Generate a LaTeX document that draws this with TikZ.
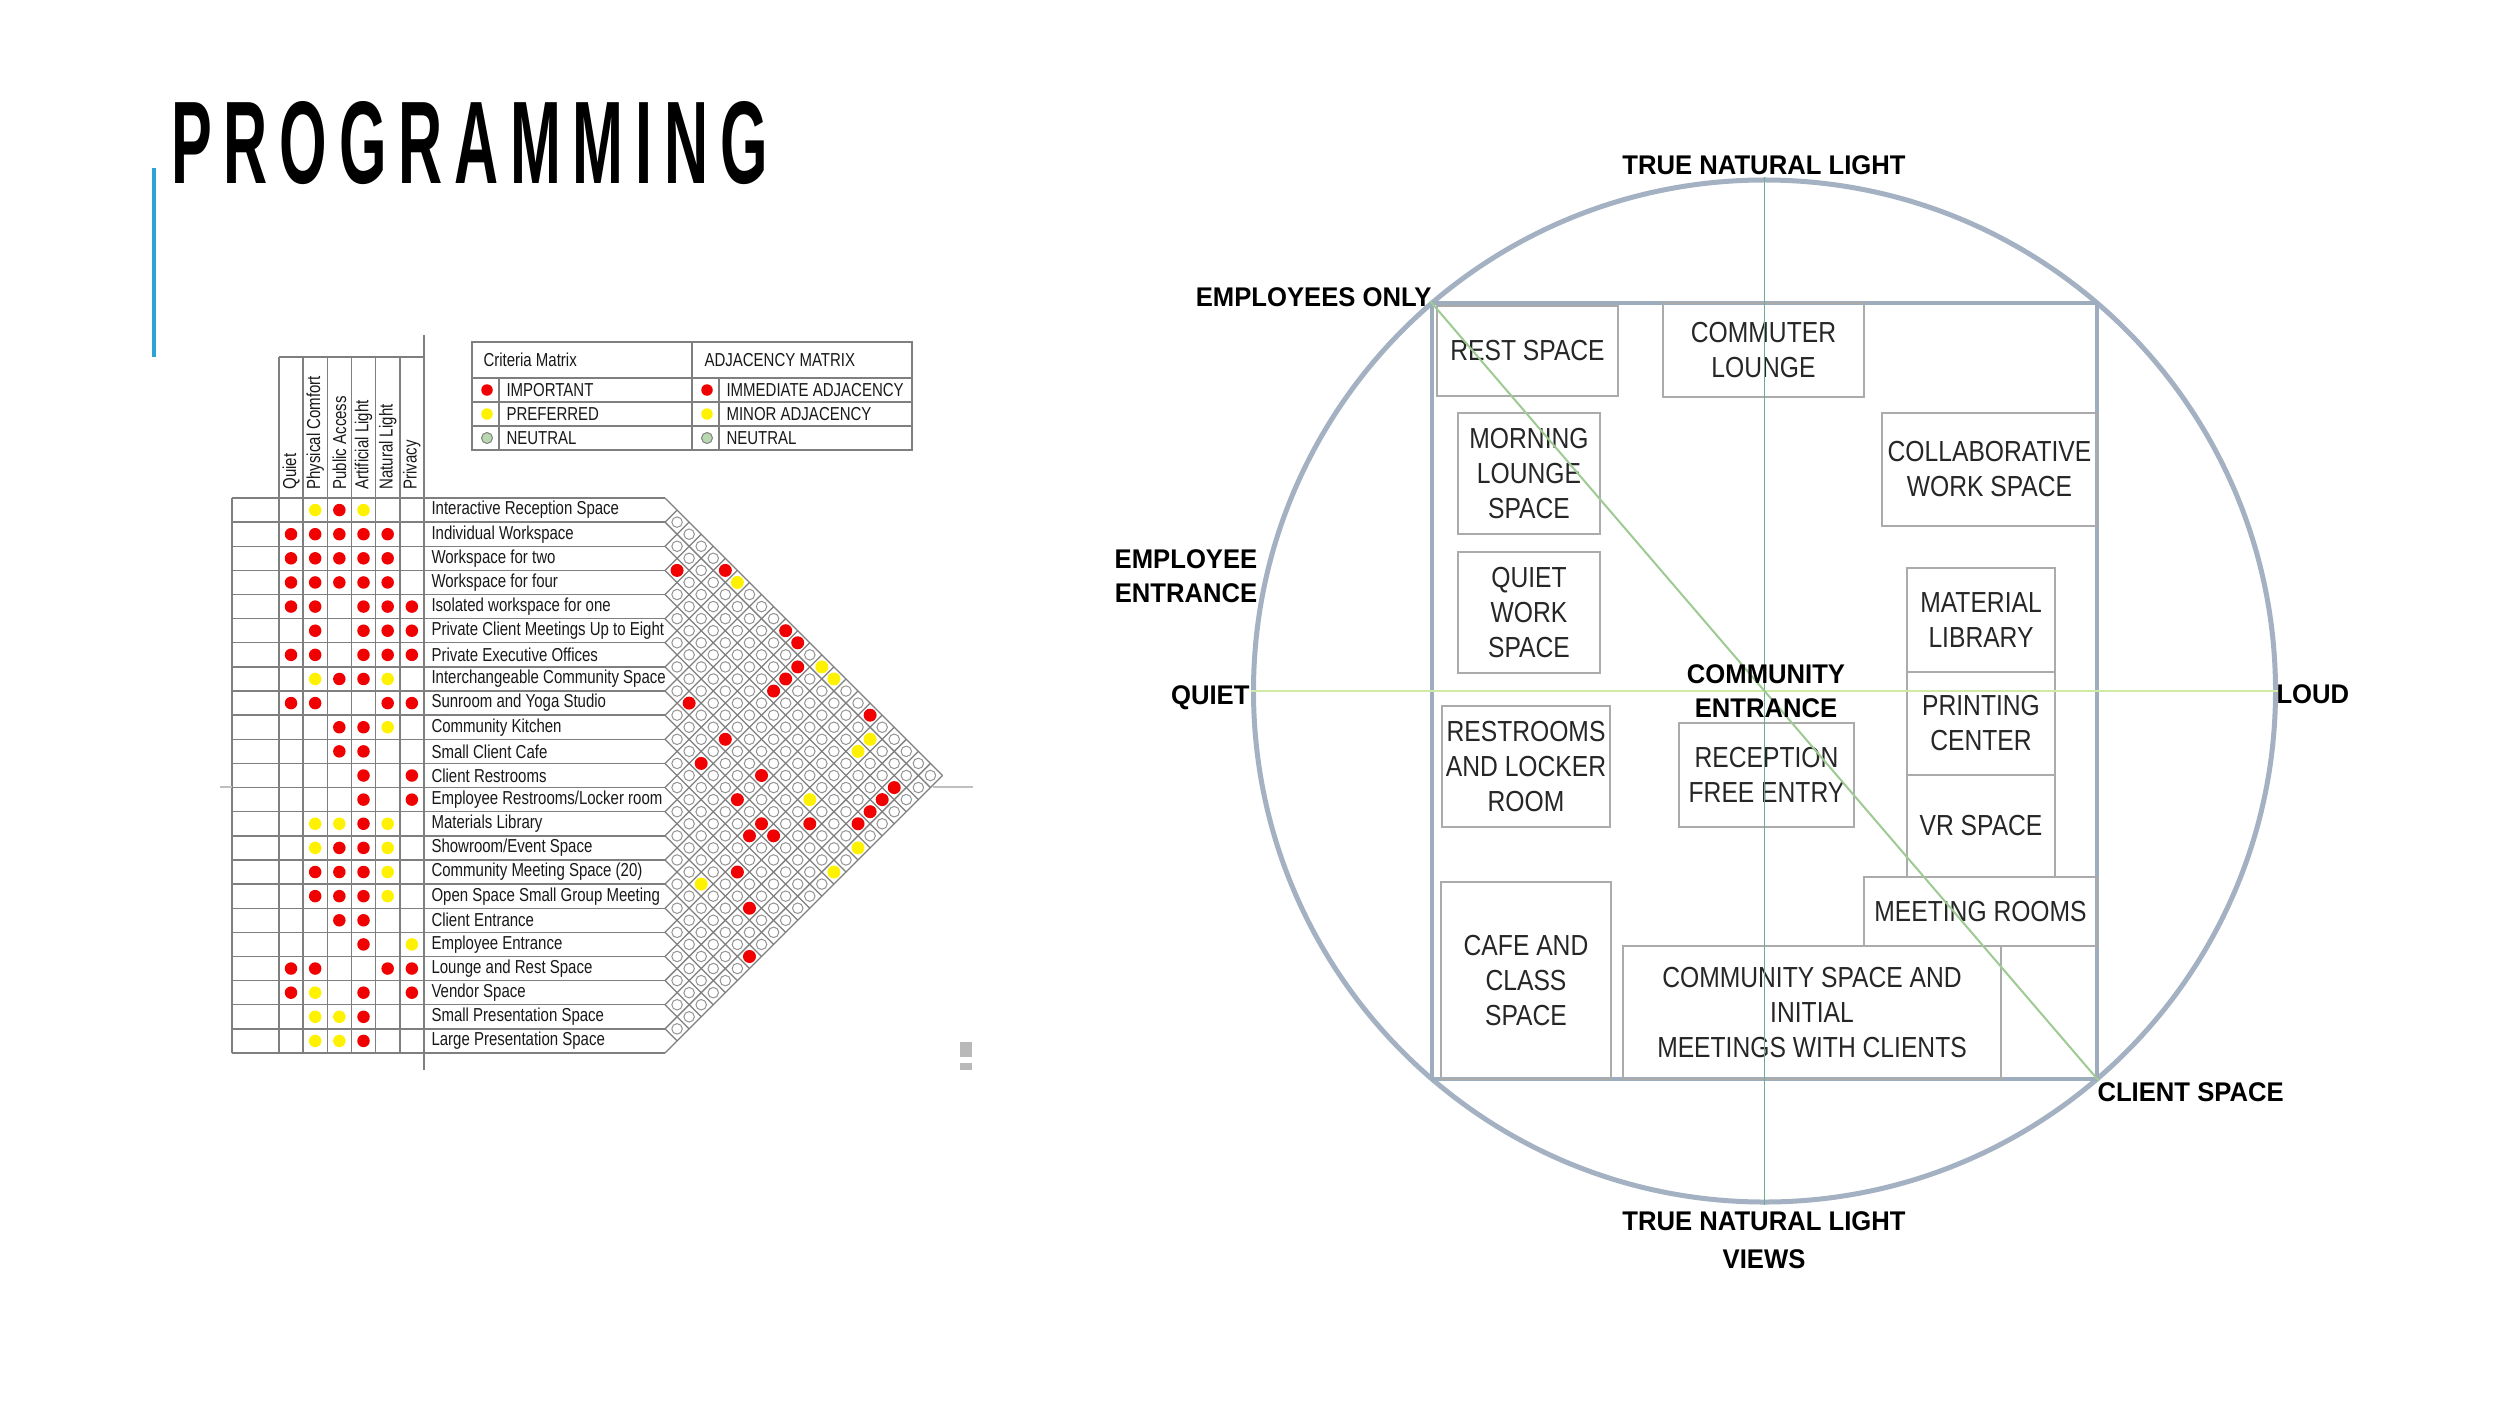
\documentclass[tikz,border=0pt]{standalone}
\usepackage{fontspec}
\setmainfont{Liberation Sans}
\newfontfamily\titlefont{Liberation Sans}[FakeStretch=0.52, LetterSpace=10]
\newfontfamily\tabfont{Liberation Sans}[FakeStretch=0.8]
\newfontfamily\roomfont{Liberation Sans}[FakeStretch=0.85]
\newfontfamily\labelfont{Liberation Sans}[FakeStretch=0.95]
\usetikzlibrary{positioning}
\definecolor{accent}{HTML}{2EA3D5}
\definecolor{tabgray}{HTML}{7F7F7F}
\definecolor{impred}{HTML}{F00000}
\definecolor{prefyellow}{HTML}{FFF200}
\definecolor{neutgreen}{HTML}{B8D8B0}
\definecolor{ringcol}{HTML}{A3B1C2}
\definecolor{sitecol}{HTML}{9EADBE}
\definecolor{roomgray}{HTML}{ABABAB}
\definecolor{vcol}{HTML}{6DAE8C}
\definecolor{hcol}{HTML}{CFEAA5}
\definecolor{dcol}{HTML}{9DCB93}

\begin{document}
\begin{tikzpicture}[x=0.4pt, y=-0.4pt,
  tabline/.style={draw=tabgray, line width=0.55pt},
  gridline/.style={draw=tabgray, line width=0.5pt},
  cell/.style={draw=gray!85, fill=white, line width=0.4pt},
  tabtext/.style={inner sep=0pt, text=black!90, font=\tabfont\fontsize{7.5}{8}\selectfont},
  rowlabel/.style={tabtext, anchor=west},
  collabel/.style={tabtext, rotate=90, anchor=west},
  critr/.style={fill=impred},
  crity/.style={fill=prefyellow},
  critn/.style={fill=none},
  room/.style={draw=roomgray, line width=0.8pt, inner sep=0pt, align=center,
    text=black!85, font=\roomfont\fontsize{11.6}{14}\selectfont},
  axislabel/.style={inner sep=0pt, align=center,
    font=\labelfont\bfseries\fontsize{10.8}{13.6}\selectfont},
]
\path[use as bounding box, fill=white] (0,0) rectangle (2500,1406);

% title
\node[anchor=base west, inner sep=0pt, font=\titlefont\bfseries\fontsize{47}{47}\selectfont] (title) at (171,183) {PROGRAMMING};
\coordinate (bartop) at (154,168);
\coordinate (barbot) at (154,357);
\draw[accent, line width=1.4pt] (bartop) -- (barbot);

% criteria table
\foreach \k in {0,...,23}
  \draw[tabline] (232,{498+\k*24.13}) -- (665,{498+\k*24.13});
\draw[tabline] (232,498) -- (232,1053);
\foreach \c in {0,...,5} {
  \draw[tabline] ({279+\c*24.17},357) -- ({279+\c*24.17},1053);
}
\draw[tabline] (279,357) -- (424,357);
\draw[tabline] (424,335) -- (424,1070);

\foreach \lbl [count=\c from 0] in {Quiet, Physical Comfort, Public Access, Artificial Light, Natural Light, Privacy}
  \node[collabel] (crit\c) at ({291+\c*24.17},490) {\lbl};

\foreach \lbl [count=\r from 0] in {Interactive Reception Space, Individual Workspace, Workspace for two,
  Workspace for four, Isolated workspace for one, Private Client Meetings Up to Eight,
  Private Executive Offices, Interchangeable Community Space, Sunroom and Yoga Studio,
  Community Kitchen, Small Client Cafe, Client Restrooms, Employee Restrooms/Locker room,
  Materials Library, Showroom/Event Space, Community Meeting Space (20),
  Open Space Small Group Meeting, Client Entrance, Employee Entrance, Lounge and Rest Space,
  Vendor Space, Small Presentation Space, Large Presentation Space}
  \node[rowlabel] (row\r) at (431,{498+(\r+0.5)*24.13}) {\lbl};

\foreach \marks [count=\r from 0] in {{n,y,r,y,n,n},{r,r,r,r,r,n},{r,r,r,r,r,n},{r,r,r,r,r,n},
  {r,r,n,r,r,r},{n,r,n,r,r,r},{r,r,n,r,r,r},{n,y,r,r,y,n},{r,r,n,n,r,r},{n,n,r,r,y,n},
  {n,n,r,r,n,n},{n,n,n,r,n,r},{n,n,n,r,n,r},{n,y,y,r,y,n},{n,y,r,r,y,n},{n,r,r,r,y,n},
  {n,r,r,r,y,n},{n,n,r,r,n,n},{n,n,n,r,n,y},{r,r,n,n,r,r},{r,y,n,r,n,r},{n,y,y,r,n,n},
  {n,y,y,r,n,n}}
  \foreach \m [count=\c from 0] in \marks
    \fill[crit\m] ({291+\c*24.17},{498+(\r+0.5)*24.13}) circle (2.5pt);

% adjacency matrix
\foreach \k in {0,...,23} {
  \draw[gridline] (665,{498+\k*24.13}) -- ++({(23-\k)*12.065},{(23-\k)*12.065});
  \draw[gridline] (665,{498+\k*24.13}) -- ++({\k*12.065},{-\k*12.065});
}
\foreach \i in {0,...,21} {
  \pgfmathtruncatemacro\jfirst{\i+1}
  \foreach \j in {\jfirst,...,22}
    \filldraw[cell] ({665+(\j-\i)*12.065},{498+(\i+\j+1)*12.065}) circle (2.1pt);
}
\foreach \i/\j/\col in {2/3/impred, 0/5/impred, 0/6/prefyellow, 0/10/impred, 0/11/impred,
  1/12/impred, 2/12/impred, 3/12/impred, 0/13/prefyellow, 0/14/prefyellow, 7/9/impred,
  0/17/impred, 7/12/impred, 1/18/prefyellow, 2/18/prefyellow, 9/12/impred, 7/15/impred,
  2/21/impred, 9/15/impred, 6/18/prefyellow, 3/21/impred, 4/21/impred, 9/17/impred,
  7/19/impred, 5/21/impred, 10/17/impred, 9/18/impred, 6/22/prefyellow, 12/18/impred,
  8/22/prefyellow, 14/17/prefyellow, 13/20/impred, 15/22/impred}
  \fill[\col] ({665+(\j-\i)*12.065},{498+(\i+\j+1)*12.065}) circle (2.6pt);

\draw[tabline, draw=gray!50] (220,787) -- (232,787);
\draw[tabline, draw=gray!50] (933,787) -- (973,787);
\fill[gray!55] (960,1042) rectangle (972,1057);
\fill[gray!55] (960,1063) rectangle (972,1070);

% legend
\draw[tabline] (472,342) rectangle (912,450);
\draw[tabline] (692,342) -- (692,450);
\foreach \y in {378,402,426} \draw[tabline] (472,\y) -- (912,\y);
\draw[tabline] (499,378) -- (499,450);
\draw[tabline] (719,378) -- (719,450);
\node[rowlabel] (critkey) at (483,360) {Criteria Matrix};
\node[rowlabel] (adjkey) at (704,360) {ADJACENCY MATRIX};
\node[rowlabel] (keyimp) at (506,390) {IMPORTANT};
\node[rowlabel] (keypref) at (506,414) {PREFERRED};
\node[rowlabel] (keyneut) at (506,438) {NEUTRAL};
\node[rowlabel] (keyimm) at (726,390) {IMMEDIATE ADJACENCY};
\node[rowlabel] (keyminor) at (726,414) {MINOR ADJACENCY};
\node[rowlabel] (keyneut2) at (726,438) {NEUTRAL};
\foreach \x in {487,707} {
  \fill[impred] (\x,390) circle (2.3pt);
  \fill[prefyellow] (\x,414) circle (2.3pt);
  \filldraw[fill=neutgreen, draw=gray, line width=0.4pt] (\x,438) circle (2.2pt);
}

% site diagram
\node[draw=ringcol, line width=2pt, circle, minimum size=408.8pt, inner sep=0pt] (ring) at (1764.5,691) {};
\node[draw=sitecol, line width=1.5pt, minimum width=266pt, minimum height=310.4pt, inner sep=0pt] (site) at (1764.5,691) {};

\node[room, minimum width=72.4pt, minimum height=36pt] (rest) at (1527.5,351) {REST SPACE};
\node[room, minimum width=80.4pt, minimum height=37.6pt] (commuter) at (1763.5,350) {COMMUTER\\LOUNGE};
\node[room, minimum width=56.8pt, minimum height=48.4pt] (morning) at (1529,473.5) {MORNING\\LOUNGE\\SPACE};
\node[room, minimum width=86pt, minimum height=45.2pt] (collab) at (1989.5,469.5) {COLLABORATIVE\\WORK SPACE};
\node[room, minimum width=56.8pt, minimum height=48.4pt] (quietwork) at (1529,612.5) {QUIET\\WORK\\SPACE};
\node[room, minimum width=59.2pt, minimum height=41.6pt] (material) at (1981,620) {MATERIAL\\LIBRARY};
\node[room, minimum width=59.2pt, minimum height=41.2pt] (printing) at (1981,723.5) {PRINTING\\CENTER};
\node[room, minimum width=59.2pt, minimum height=40.8pt] (vr) at (1981,826) {VR SPACE};
\node[room, minimum width=67.2pt, minimum height=48.4pt] (restrooms) at (1526,766.5) {RESTROOMS\\AND LOCKER\\ROOM};
\node[room, minimum width=70pt, minimum height=41.6pt] (reception) at (1766.5,775) {RECEPTION\\FREE ENTRY};
\node[room, minimum width=93.2pt, minimum height=27.6pt] (meeting) at (1980.5,911.5) {MEETING ROOMS};
\node[room, minimum width=68pt, minimum height=78.8pt] (cafe) at (1526,980.5) {CAFE AND\\CLASS\\SPACE};
\node[room, minimum width=151.2pt, minimum height=53.2pt] (commspace) at (1812,1012.5) {COMMUNITY SPACE AND\\INITIAL\\MEETINGS WITH CLIENTS};

% axes
\draw[vcol, line width=0.6pt] (ring.north) -- (ring.south);
\draw[hcol, line width=0.8pt] (ring.west) -- (ring.east);
\draw[dcol, line width=0.8pt] (site.north west) -- (site.south east);

% axis labels
\node[axislabel, anchor=base] (lighttop) at (1764,174) {TRUE NATURAL LIGHT};
\node[axislabel, anchor=base east] (empOnly) at (1432,306) {EMPLOYEES ONLY};
\node[axislabel] (empEntrance) at (1186,576) {EMPLOYEE\\ENTRANCE};
\node[axislabel, anchor=base east] (quiet) at (1250,704) {QUIET};
\node[axislabel] (commEntrance) at (1766,691) {COMMUNITY\\ENTRANCE};
\node[axislabel, anchor=base west] (loud) at (2276,703) {LOUD};
\node[axislabel, anchor=base west] (clientSpace) at (2097,1101) {CLIENT SPACE};
\node[axislabel] (lightbottom) at (1764,1240) {TRUE NATURAL LIGHT\\[1.6pt]VIEWS};

\end{tikzpicture}
\end{document}
